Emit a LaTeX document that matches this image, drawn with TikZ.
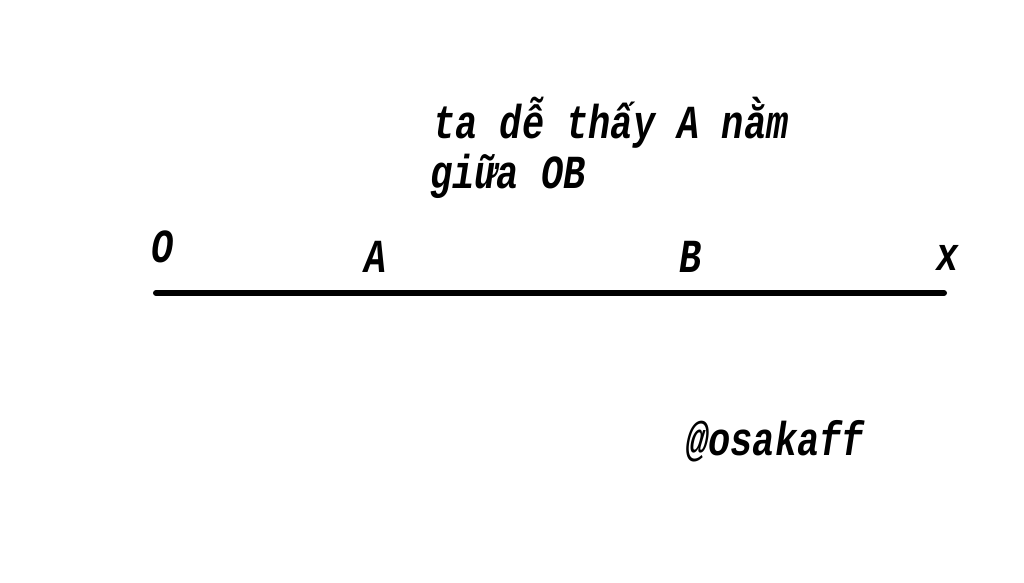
\documentclass[tikz,border=0pt]{standalone}
\usepackage{fontspec}
\setmonofont{Liberation Mono}[FakeStretch=0.78]
\usepackage{tikz}
\usetikzlibrary{positioning}

\begin{document}
\begin{tikzpicture}[
x=0.02cm, y=-0.02cm,
label/.style={
inner sep=0pt,
anchor=base west,
font=\ttfamily\bfseries\itshape\fontsize{27}{30}\selectfont
},
ray/.style={
line width=0.12cm,
line cap=round
}
]
\useasboundingbox (0,0) rectangle (1024,582);
% Tia Ox
\coordinate (start) at (156,293);
\coordinate (end) at (944,293);
\draw[ray] (start) -- (end);

% Nhan
\node[label] (O) at (151,262) {O};
\node[label] (A) at (364,272) {A};
\node[label] (B) at (679,272) {B};
\node[label] (x) at (936,270) {x};

% Ghi chu
\node[label] (note1) at (433,138) {ta dễ thấy A nằm};
\node[label] (note2) at (430,188) {giữa OB};
\node[label] (sign) at (686,455) {@osakaff};
\end{tikzpicture}
\end{document}
